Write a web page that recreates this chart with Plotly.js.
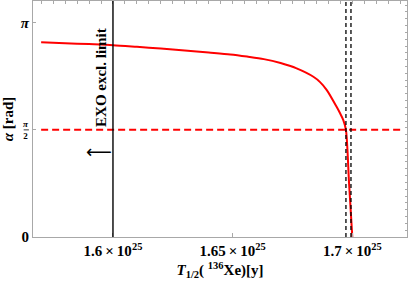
<!DOCTYPE html>
<html><head><meta charset="utf-8">
<script src="https://cdn.plot.ly/plotly-3.0.1.min.js"></script>
<style>html,body{margin:0;padding:0;background:#fff;} #chart{width:409px;height:284px;}</style>
</head><body><div id="chart"></div>
<script>
// red curve: alpha vs T_1/2
const halfLife = [1.570e25, 1.580e25, 1.590e25, 1.600e25, 1.610e25, 1.620e25, 1.630e25, 1.640e25, 1.649e25,
  1.656e25, 1.663e25, 1.670e25, 1.6767e25, 1.6837e25, 1.6865e25, 1.6893e25, 1.6934e25, 1.6948e25,
  1.6962e25, 1.6973e25, 1.6986e25, 1.69996e25];
const alpha = [2.857, 2.842, 2.828, 2.813, 2.789, 2.763, 2.735, 2.705, 2.677,
  2.645, 2.608, 2.550, 2.472, 2.349, 2.271, 2.154, 1.909, 1.817,
  1.714, 1.571, 0.790, 0.0];
// red dashed horizontal line at pi/2
const hlineX = [1.570e25, 1.720e25];
const hlineY = [Math.PI / 2, Math.PI / 2];
// vertical lines
const exoLimit = [1.600e25];
const dashedT = [1.6973e25, 1.6994e25];
// ticks
const xTickVals = [1.60e25, 1.65e25, 1.70e25];
const xTickText = ['1.6\u2009×\u200910<sup>25</sup>', '1.65\u2009×\u200910<sup>25</sup>', '1.7\u2009×\u200910<sup>25</sup>'];
const yTickVals = [0, Math.PI / 2, Math.PI];
const yTickText = ['0', '', '<i>π</i>'];
const xRange = [1.5666e25, 1.7228e25];
const yRange = [0, 3.46];

const FONT = 'Liberation Serif, Times New Roman, serif';
const frame = '#a8a8a8';

const traces = [
  { x: halfLife, y: alpha, type: 'scatter', mode: 'lines', line: { color: '#ff0000', width: 2, shape: 'spline', smoothing: 0.8 }, hoverinfo: 'skip' },
  { x: hlineX, y: hlineY, type: 'scatter', mode: 'lines', line: { color: '#ff0000', width: 2, dash: '7px,4px' }, hoverinfo: 'skip' },
  { x: [], y: [], xaxis: 'x2', yaxis: 'y2', type: 'scatter', mode: 'lines', hoverinfo: 'skip' }
];

const shapes = [];
exoLimit.forEach(v => shapes.push({ type: 'line', xref: 'x', yref: 'paper', x0: v, x1: v, y0: 0, y1: 1,
  line: { color: '#000', width: 1.4 } }));
dashedT.forEach(v => shapes.push({ type: 'line', xref: 'x', yref: 'paper', x0: v, x1: v, y0: 0, y1: 1,
  line: { color: '#000', width: 1.3, dash: '4px,3px' } }));
// fraction bar for pi/2 tick label
shapes.push({ type: 'line', xref: 'paper', yref: 'y', x0: -0.025, x1: -0.011, y0: Math.PI / 2, y1: Math.PI / 2,
  line: { color: '#000', width: 0.8 } });

const layout = {
  width: 409, height: 284,
  margin: { l: 33, r: 2, t: 1, b: 47 },
  paper_bgcolor: '#fff', plot_bgcolor: '#fff',
  showlegend: false,
  font: { family: FONT, size: 15, color: '#000' },
  xaxis: {
    range: xRange, showgrid: false, zeroline: false,
    showline: true, linecolor: frame, linewidth: 1, mirror: true,
    tickmode: 'array', tickvals: xTickVals, ticktext: xTickText,
    ticks: 'inside', ticklen: 4, tickcolor: frame, tickwidth: 1,
    tickfont: { family: FONT, size: 15, weight: 'bold' },
    title: { text: '<i>T</i><sub>1/2</sub>( <sup>136</sup>Xe)[y]', font: { family: FONT, size: 15, weight: 'bold' }, standoff: 6 }
  },
  yaxis: {
    range: yRange, showgrid: false, zeroline: false,
    showline: true, linecolor: frame, linewidth: 1, mirror: true,
    tickmode: 'array', tickvals: yTickVals, ticktext: yTickText,
    ticks: 'inside', ticklen: 3, tickcolor: frame, tickwidth: 1,
    tickfont: { family: FONT, size: 15, weight: 'bold' },
    title: { text: '<i>α</i> [rad]', font: { family: FONT, size: 15, weight: 'bold' }, standoff: 6 }
  },
  xaxis2: {
    overlaying: 'x', side: 'top', anchor: 'y2', range: xRange,
    showgrid: false, zeroline: false, showline: false, showticklabels: false,
    tickmode: 'linear', tick0: 1.6e25, dtick: 0.005e25,
    ticks: 'inside', ticklen: 3, tickcolor: frame, tickwidth: 1
  },
  yaxis2: {
    overlaying: 'y', side: 'right', anchor: 'x2', range: yRange,
    showgrid: false, zeroline: false, showline: false, showticklabels: false,
    tickmode: 'linear', tick0: 0, dtick: 0.1,
    ticks: 'inside', ticklen: 2, tickcolor: frame, tickwidth: 1
  },
  shapes: shapes,
  annotations: [
    { xref: 'x', yref: 'paper', x: exoLimit[0], y: 0.678, xanchor: 'center', yanchor: 'middle', xshift: -12,
      text: 'EXO excl. limit', textangle: -90, showarrow: false,
      font: { family: FONT, size: 15, weight: 'bold', color: '#000' } },
    { xref: 'x', yref: 'paper', x: exoLimit[0], y: 0.364, xanchor: 'center', yanchor: 'middle', xshift: -14,
      text: '⟵', showarrow: false, font: { family: 'DejaVu Sans', size: 18, color: '#000' } },
    { xref: 'paper', yref: 'y', x: -0.018, y: Math.PI / 2, xanchor: 'center', yanchor: 'middle',
      text: '<i>π</i><br>2', showarrow: false, font: { family: FONT, size: 9, weight: 'bold', color: '#000' } }
  ]
};

Plotly.newPlot('chart', traces, layout, { staticPlot: true, displayModeBar: false });
</script></body></html>
